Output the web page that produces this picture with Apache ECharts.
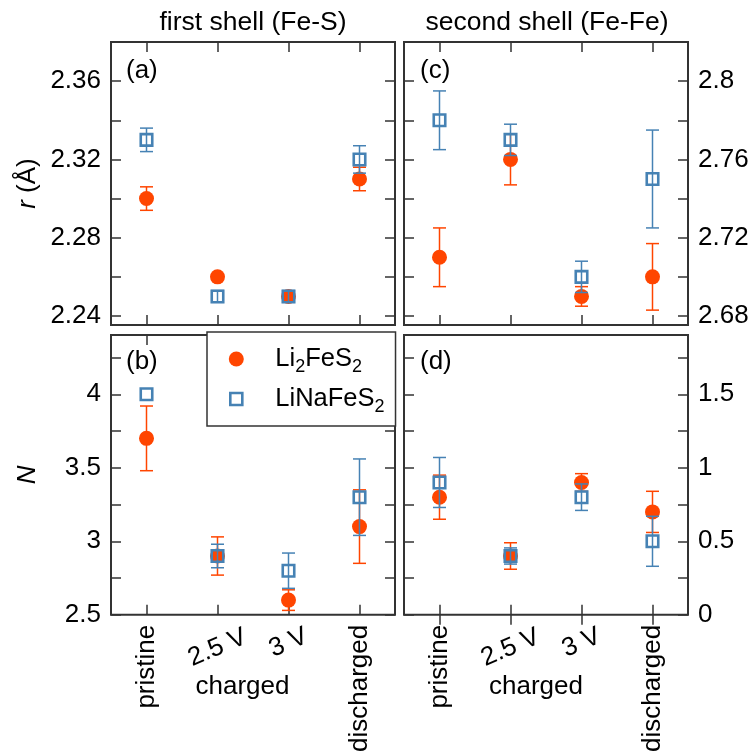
<!DOCTYPE html>
<html><head><meta charset="utf-8">
<script src="https://cdn.jsdelivr.net/npm/echarts@6/dist/echarts.min.js"></script>
<style>html,body{margin:0;padding:0;background:#fff}#c{width:752px;height:755px}</style>
</head><body><div id="c"></div>
<script>
// ---------------- DATA ----------------
const categories = ['pristine', '2.5 V', '3 V', 'discharged'];

// (a) first shell (Fe-S), r
const rFirstLi = [2.300, 2.260, 2.250, 2.310];
const rFirstLiErr = [0.006, 0, 0, 0.006];
const rFirstNa = [2.330, 2.250, 2.250, 2.320];
const rFirstNaErr = [0.006, 0.003, 0.003, 0.007];
// (c) second shell (Fe-Fe), r
const rSecondLi = [2.710, 2.760, 2.690, 2.700];
const rSecondLiErr = [0.015, 0.013, 0.005, 0.017];
const rSecondNa = [2.780, 2.770, 2.700, 2.750];
const rSecondNaErr = [0.015, 0.008, 0.008, 0.025];
// (b) first shell, N
const nFirstLi = [3.70, 2.90, 2.60, 3.10];
const nFirstLiErr = [0.22, 0.13, 0.07, 0.25];
const nFirstNa = [4.00, 2.90, 2.80, 3.30];
const nFirstNaErr = [0, 0.08, 0.12, 0.26];
// (d) second shell, N
const nSecondLi = [0.80, 0.40, 0.90, 0.70];
const nSecondLiErr = [0.15, 0.09, 0.06, 0.14];
const nSecondNa = [0.90, 0.40, 0.80, 0.50];
const nSecondNaErr = [0.17, 0.055, 0.09, 0.17];

// tick values / tick labels
const rFirstTicks = [2.24, 2.26, 2.28, 2.30, 2.32, 2.34, 2.36];
const rFirstTickLabels = [2.24, 2.28, 2.32, 2.36];
const rSecondTicks = [2.68, 2.70, 2.72, 2.74, 2.76, 2.78, 2.80];
const rSecondTickLabels = [2.68, 2.72, 2.76, 2.8];
const nFirstTicks = [2.5, 2.75, 3, 3.25, 3.5, 3.75, 4, 4.25];
const nFirstTickLabels = [2.5, 3, 3.5, 4];
const nSecondTicks = [0, 0.25, 0.5, 0.75, 1, 1.25, 1.5, 1.75];
const nSecondTickLabels = [0, 0.5, 1, 1.5];

const seriesNames = ['Li2FeS2', 'LiNaFeS2'];
const panelTitles = ['first shell (Fe-S)', 'second shell (Fe-Fe)'];
const panelLetters = ['(a)', '(b)', '(c)', '(d)'];
const groupLabel = 'charged';

// ---------------- STYLE ----------------
const ORANGE = '#FF4500', BLUE = '#4682B4', FRAME = '#333';
const FONT = '"Liberation Sans", Arial, Helvetica, sans-serif';
const FS = 26;

const panels = [
  {grid:{left:111, top:42, width:284, height:283}, min:2.2354, max:2.38, ticks:rFirstTicks, labels:rFirstTickLabels, side:'left', bottom:false,
   li:rFirstLi, liErr:rFirstLiErr, na:rFirstNa, naErr:rFirstNaErr, name:'{i|r} (Å)'},
  {grid:{left:111, top:335, width:284, height:283}, min:2.5, max:4.403, ticks:nFirstTicks, labels:nFirstTickLabels, side:'left', bottom:true,
   li:nFirstLi, liErr:nFirstLiErr, na:nFirstNa, naErr:nFirstNaErr, name:'{i|N}'},
  {grid:{left:404, top:42, width:284, height:283}, min:2.6754, max:2.82, ticks:rSecondTicks, labels:rSecondTickLabels, side:'right', bottom:false,
   li:rSecondLi, liErr:rSecondLiErr, na:rSecondNa, naErr:rSecondNaErr},
  {grid:{left:404, top:335, width:284, height:283}, min:0, max:1.903, ticks:nSecondTicks, labels:nSecondTickLabels, side:'right', bottom:true,
   li:nSecondLi, liErr:nSecondLiErr, na:nSecondNa, naErr:nSecondNaErr}
];

const verticalCats = [categories[0], categories[3]];
const slanted = [{cat: categories[1], margin: 33}, {cat: categories[2], margin: 28}];

function errRenderer(color) {
  return function (params, api) {
    if (!api.value(3)) return null;
    const x = api.value(0);
    const top = api.coord([x, api.value(2)]);
    const bot = api.coord([x, api.value(1)]);
    const w = 6.5;
    const style = {stroke: color, lineWidth: 1.5, fill: null};
    return {type: 'group', children: [
      {type: 'line', shape: {x1: top[0], y1: top[1], x2: bot[0], y2: bot[1]}, style},
      {type: 'line', shape: {x1: top[0] - w, y1: top[1], x2: top[0] + w, y2: top[1]}, style},
      {type: 'line', shape: {x1: bot[0] - w, y1: bot[1], x2: bot[0] + w, y2: bot[1]}, style}
    ]};
  };
}

const tickLine = {color: FRAME, width: 1.5};
const option = {
  animation: false,
  backgroundColor: '#fff',
  textStyle: {fontFamily: FONT},
  grid: panels.map(p => Object.assign({show: true, borderColor: FRAME, borderWidth: 2, backgroundColor: 'transparent', containLabel: false}, p.grid)),
  xAxis: [], yAxis: [], series: [],
  legend: {
    orient: 'vertical', left: 207, top: 332, z: 20,
    backgroundColor: '#fff', borderColor: FRAME, borderWidth: 1.5, borderRadius: 0,
    padding: [12, 11, 10, 20.5], itemGap: 8, itemWidth: 15, itemHeight: 15,
    selectedMode: false,
    data: [
      {name: seriesNames[0], icon: 'circle', itemStyle: {color: ORANGE, borderWidth: 0}},
      {name: seriesNames[1], icon: 'path://M0,0M15,15M1.5,1.5L13.5,1.5L13.5,13.5L1.5,13.5Z', itemStyle: {color: 'rgba(0,0,0,0)', borderColor: BLUE, borderWidth: 2.6}}
    ],
    formatter: n => n === seriesNames[0] ? '{sp|}Li{sub|2}FeS{sub|2}' : '{sp|}LiNaFeS{sub|2}',
    textStyle: {fontSize: 25.5, color: '#000', fontFamily: FONT, lineHeight: 30,
      rich: {sp: {width: 26.5}, sub: {fontSize: 18, padding: [16, 0, 0, 0], fontFamily: FONT}}}
  },
  graphic: []
};

panels.forEach((p, g) => {
  // top mirror axis
  option.xAxis.push({type: 'category', gridIndex: g, data: categories, position: 'top',
    axisLine: {show: false}, splitLine: {show: false}, axisLabel: {show: false},
    axisTick: {show: true, inside: true, alignWithLabel: true, interval: 0, length: 10, lineStyle: tickLine}});
  const mainX = option.xAxis.length;
  option.xAxis.push({type: 'category', gridIndex: g, data: categories, position: 'bottom',
    axisLine: {show: false}, splitLine: {show: false},
    axisTick: {show: true, inside: true, alignWithLabel: true, interval: 0, length: 10, lineStyle: tickLine},
    axisLabel: p.bottom ? {show: true, interval: 0, rotate: 90, margin: 10, fontSize: FS, color: '#000',
      formatter: v => verticalCats.includes(v) ? v : ''} : {show: false}});
  if (p.bottom) {
    slanted.forEach(s => {
      option.xAxis.push({type: 'category', gridIndex: g, data: categories, position: 'bottom',
        axisLine: {show: false}, splitLine: {show: false}, axisTick: {show: false},
        axisLabel: {show: true, interval: 0, rotate: 23, margin: s.margin, align: 'center', verticalAlign: 'middle',
          fontSize: FS, color: '#000', formatter: v => v === s.cat ? v : ''}});
    });
  }
  const fmt = v => String(Math.round(v * 100) / 100);
  const leftY = option.yAxis.length;
  ['left', 'right'].forEach(pos => {
    const y = {type: 'value', gridIndex: g, position: pos, min: p.min, max: p.max,
      axisLine: {show: false}, splitLine: {show: false},
      axisTick: {show: true, inside: true, length: 10, customValues: p.ticks, lineStyle: tickLine},
      axisLabel: {show: p.side === pos, customValues: p.labels, margin: 10, fontSize: FS, color: '#000', formatter: fmt}};
    if (pos === 'left' && p.name) {
      Object.assign(y, {name: p.name, nameLocation: 'middle', nameRotate: 90, nameGap: 70,
        nameTextStyle: {fontSize: FS, color: '#000', fontFamily: FONT,
          rich: {i: {fontStyle: 'italic', fontSize: FS, fontFamily: FONT}}}});
    }
    option.yAxis.push(y);
  });
  const mk = (vals, errs) => vals.map((v, i) => [i, v - errs[i], v + errs[i], errs[i]]);
  option.series.push(
    {type: 'custom', name: seriesNames[0] + ' err', xAxisIndex: mainX, yAxisIndex: leftY, z: 2, silent: true,
      encode: {x: 0, y: [1, 2]}, data: mk(p.li, p.liErr), renderItem: errRenderer(ORANGE)},
    {type: 'scatter', name: seriesNames[0], xAxisIndex: mainX, yAxisIndex: leftY, z: 3, silent: true,
      symbol: 'circle', symbolSize: 15, itemStyle: {color: ORANGE, opacity: 1},
      data: p.li.map((v, i) => [i, v])},
    {type: 'custom', name: seriesNames[1] + ' err', xAxisIndex: mainX, yAxisIndex: leftY, z: 4, silent: true,
      encode: {x: 0, y: [1, 2]}, data: mk(p.na, p.naErr), renderItem: errRenderer(BLUE)},
    {type: 'scatter', name: seriesNames[1], xAxisIndex: mainX, yAxisIndex: leftY, z: 5, silent: true,
      symbol: 'rect', symbolSize: 11.5, itemStyle: {color: 'rgba(0,0,0,0)', borderColor: BLUE, borderWidth: 2.6, opacity: 1},
      data: p.na.map((v, i) => [i, v])}
  );
});

function txt(text, x, y, align, size) {
  return {type: 'text', x, y, z: 30, silent: true,
    style: {text, fontSize: size || FS, fontFamily: FONT, fill: '#000',
      textAlign: align, align: align, textVerticalAlign: 'middle', verticalAlign: 'middle'}};
}
option.graphic.push(
  txt(panelTitles[0], 253, 23, 'center', 26.5),
  txt(panelTitles[1], 547, 23, 'center', 26.5),
  txt(panelLetters[0], 126, 71, 'left'),
  txt(panelLetters[1], 126, 362, 'left'),
  txt(panelLetters[2], 420, 71, 'left'),
  txt(panelLetters[3], 420, 362, 'left'),
  txt(groupLabel, 242.5, 686.5, 'center'),
  txt(groupLabel, 536, 686.5, 'center')
);

const chart = echarts.init(document.getElementById('c'), null, {renderer: 'canvas'});
chart.setOption(option);
</script></body></html>
